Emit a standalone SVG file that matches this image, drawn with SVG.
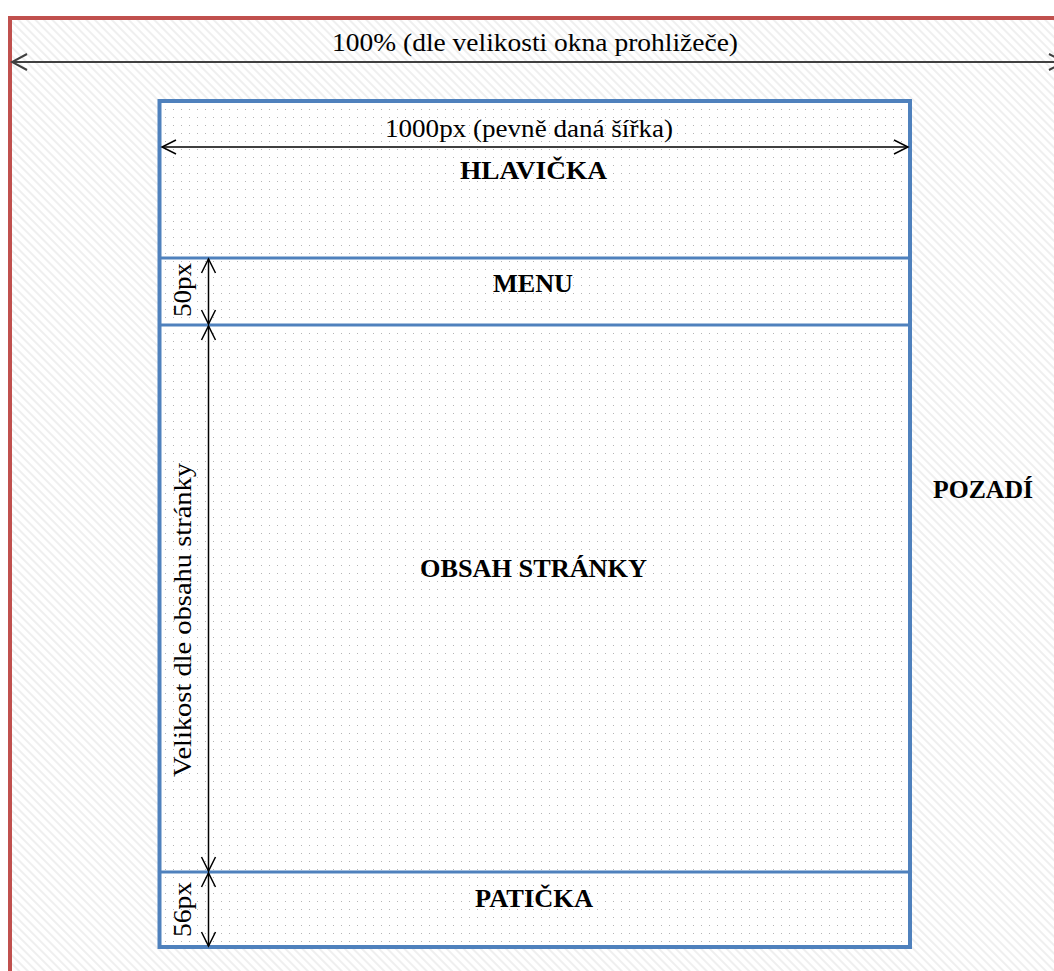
<svg xmlns="http://www.w3.org/2000/svg" width="1054" height="971" viewBox="0 0 1054 971">
<defs>
<pattern id="hatch" patternUnits="userSpaceOnUse" width="6" height="6" patternTransform="rotate(45)">
<rect width="6" height="6" fill="#ffffff"/>
<line x1="0" y1="1" x2="6" y2="1" stroke="#e9e9e9" stroke-width="1.4"/>
</pattern>
<pattern id="dots" patternUnits="userSpaceOnUse" width="8" height="8" x="2" y="2">
<rect width="8" height="8" fill="#ffffff"/>
<rect x="3" y="3" width="1" height="1" fill="#b4b4b4"/>
</pattern>
<marker id="arrG" viewBox="0 0 18 18" refX="16" refY="9" markerWidth="18" markerHeight="18" markerUnits="userSpaceOnUse" orient="auto-start-reverse">
<path d="M1,1 L16,9 L1,17" fill="none" stroke="#404040" stroke-width="2"/>
</marker>
<marker id="arrK" viewBox="0 0 18 18" refX="16" refY="9" markerWidth="18" markerHeight="18" markerUnits="userSpaceOnUse" orient="auto-start-reverse">
<path d="M2,2 L16,9 L2,16" fill="none" stroke="#000000" stroke-width="1.5"/>
</marker>
</defs>
<style>
.t{font-family:"Liberation Serif","Times New Roman",serif;font-size:26px;fill:#000}
.b{font-family:"Liberation Serif","Times New Roman",serif;font-size:26px;font-weight:bold;fill:#000}
.dim{stroke:#000;stroke-width:1.5;fill:none;marker-start:url(#arrK);marker-end:url(#arrK)}
.sep{stroke:#4f81bd;stroke-width:3}
</style>
<rect width="1054" height="971" fill="#ffffff"/>
<g id="pozadi">
<rect x="10" y="18" width="1100" height="1000" fill="url(#hatch)" stroke="#c0504d" stroke-width="4"/>
<text class="b" x="983" y="498" text-anchor="middle" textLength="100" lengthAdjust="spacingAndGlyphs">POZADÍ</text>
</g>
<g id="stranka">
<rect x="159.5" y="101" width="750.5" height="846" fill="url(#dots)" stroke="#4f81bd" stroke-width="4"/>
</g>
<g id="hlavicka">
<text class="b" x="533.5" y="179" text-anchor="middle" textLength="147" lengthAdjust="spacingAndGlyphs">HLAVIČKA</text>
</g>
<g id="menu">
<line class="sep" x1="160" y1="258" x2="910" y2="258"/>
<text class="b" x="533" y="292" text-anchor="middle" textLength="80" lengthAdjust="spacingAndGlyphs">MENU</text>
</g>
<g id="obsah">
<line class="sep" x1="160" y1="325" x2="910" y2="325"/>
<text class="b" x="533.5" y="577" text-anchor="middle" textLength="227" lengthAdjust="spacingAndGlyphs">OBSAH STRÁNKY</text>
</g>
<g id="paticka">
<line class="sep" x1="160" y1="872" x2="910" y2="872"/>
<text class="b" x="534" y="907" text-anchor="middle" textLength="118" lengthAdjust="spacingAndGlyphs">PATIČKA</text>
</g>
<g id="connectors">
<line x1="12" y1="62" x2="1064" y2="62" stroke="#404040" stroke-width="2" marker-start="url(#arrG)" marker-end="url(#arrG)"/>
<line class="dim" x1="162" y1="147" x2="908" y2="147"/>
<line class="dim" x1="208.5" y1="259" x2="208.5" y2="324"/>
<line class="dim" x1="208.5" y1="326" x2="208.5" y2="871"/>
<line class="dim" x1="208.5" y1="873" x2="208.5" y2="946"/>
</g>
<g id="labels">
<text class="t" x="535" y="51" text-anchor="middle" textLength="406" lengthAdjust="spacingAndGlyphs">100% (dle velikosti okna prohližeče)</text>
<text class="t" x="529" y="137" text-anchor="middle" textLength="288" lengthAdjust="spacingAndGlyphs">1000px (pevně daná šířka)</text>
<text class="t" transform="translate(191,290) rotate(-90)" text-anchor="middle" textLength="54" lengthAdjust="spacingAndGlyphs">50px</text>
<text class="t" transform="translate(191,620) rotate(-90)" text-anchor="middle" textLength="314" lengthAdjust="spacingAndGlyphs">Velikost dle obsahu stránky</text>
<text class="t" transform="translate(191,909.5) rotate(-90)" text-anchor="middle" textLength="55" lengthAdjust="spacingAndGlyphs">56px</text>
</g>
</svg>
